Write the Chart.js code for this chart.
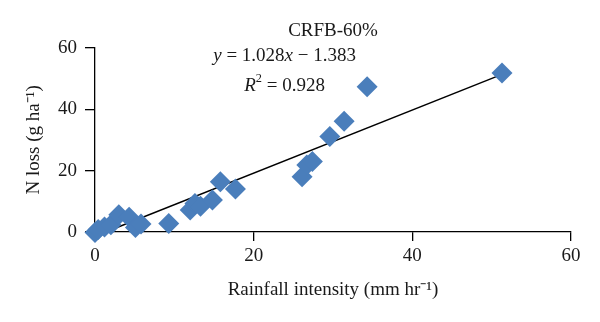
<!DOCTYPE html>
<html>
<head>
<meta charset="utf-8">
<script src="https://cdn.jsdelivr.net/npm/chart.js@4"></script>
<style>
  html, body { margin: 0; padding: 0; background: #fff; }
  #wrap { width: 600px; height: 322px; }
</style>
</head>
<body>
<div id="wrap"><canvas id="chart"></canvas></div>
<script>
// rainfall intensity (mm/hr) vs N loss (g/ha)
const rainfall = [0, 0.4, 1.2, 2.0, 3.0, 4.3, 5.1, 5.8, 9.3, 12.0, 12.6, 13.3, 14.8, 15.8, 17.7, 26.1, 26.7, 27.4, 29.6, 31.4, 34.3, 51.3]
const nLoss = [-0.2, 0.8, 1.6, 2.4, 5.6, 4.8, 1.5, 2.6, 2.8, 7.2, 9.3, 8.4, 10.4, 16.4, 14.0, 18.0, 21.8, 23.0, 31.1, 36.1, 47.3, 51.8]
const trendX = [0, 51.3]
const slope = 1.028
const intercept = -1.383
const tickValues = [0, 20, 40, 60]

const points = rainfall.map((x, i) => ({ x, y: nLoss[i] }))
const trend = trendX.map(x => ({ x, y: slope * x + intercept }))

const serif = '"Liberation Serif", "Times New Roman", serif'
const textColor = '#1a1a1a'
const fontSize = 19

// draws runs of text, some italic or superscript, centred on a point
function drawRuns(ctx, runs, cx, cy, size) {
  const fontFor = r => `${r.italic ? 'italic ' : ''}${r.sup ? size * 0.65 : size}px ${serif}`
  let total = 0
  runs.forEach(r => { ctx.font = fontFor(r); total += ctx.measureText(r.t).width })
  let x = cx - total / 2
  ctx.textBaseline = 'middle'
  ctx.textAlign = 'left'
  runs.forEach(r => {
    ctx.font = fontFor(r)
    ctx.fillText(r.t, x, r.sup ? cy - size * 0.38 : cy)
    x += ctx.measureText(r.t).width
  })
}

const equationLabel = {
  id: 'equationLabel',
  afterDatasetsDraw(chart) {
    const { ctx, scales } = chart
    ctx.save()
    ctx.fillStyle = textColor
    const cx = scales.x.getPixelForValue(23.9)
    drawRuns(ctx, [
      { t: 'y', italic: true }, { t: ' = 1.028' }, { t: 'x', italic: true }, { t: ' \u2212 1.383' }
    ], cx, scales.y.getPixelForValue(57.3), fontSize)
    drawRuns(ctx, [
      { t: 'R', italic: true }, { t: '2', sup: true }, { t: ' = 0.928' }
    ], cx, scales.y.getPixelForValue(47.6), fontSize)
    ctx.restore()
  }
}

new Chart(document.getElementById('chart'), {
  type: 'scatter',
  data: {
    datasets: [
      {
        label: 'CRFB-60%',
        data: points,
        pointStyle: 'rectRot',
        pointRadius: 10.5,
        pointHoverRadius: 10.5,
        backgroundColor: '#4a7ebb',
        borderColor: '#4a7ebb',
        borderWidth: 0,
        clip: false
      },
      {
        label: 'fit',
        type: 'line',
        data: trend,
        borderColor: '#000',
        borderWidth: 1.5,
        pointRadius: 0,
        fill: false,
        clip: false
      }
    ]
  },
  options: {
    responsive: true,
    maintainAspectRatio: false,
    animation: false,
    layout: { padding: { left: 0, right: 29, top: 0, bottom: 21 } },
    plugins: {
      legend: { display: false },
      tooltip: { enabled: false },
      title: {
        display: true,
        text: 'CRFB-60%',
        fullSize: false,
        color: textColor,
        font: { family: serif, size: fontSize, weight: 'normal', lineHeight: 1.2 },
        padding: { top: 20, bottom: 5 }
      }
    },
    scales: {
      x: {
        type: 'linear',
        min: 0,
        max: 60,
        afterBuildTicks: s => { s.ticks = tickValues.map(v => ({ value: v })) },
        afterFit: s => { s.height = 69 },
        grid: { display: true, drawOnChartArea: false, drawTicks: true, tickLength: 9, color: '#000', lineWidth: 1.3 },
        border: { display: true, color: '#000', width: 1.3 },
        ticks: { color: textColor, font: { family: serif, size: fontSize }, padding: 4, maxRotation: 0 },
        title: {
          display: true,
          text: 'Rainfall intensity (mm hr\u207B\u00B9)',
          color: textColor,
          font: { family: serif, size: fontSize },
          padding: { top: 0, bottom: 0 }
        }
      },
      y: {
        type: 'linear',
        min: 0,
        max: 60,
        afterBuildTicks: s => { s.ticks = tickValues.map(v => ({ value: v })) },
        afterFit: s => { s.width = 95 },
        grid: { display: true, drawOnChartArea: false, drawTicks: true, tickLength: 10, color: '#000', lineWidth: 1.3 },
        border: { display: true, color: '#000', width: 1.3 },
        ticks: { color: textColor, font: { family: serif, size: fontSize }, padding: 8 },
        title: {
          display: true,
          text: 'N loss (g ha\u207B\u00B9)',
          color: textColor,
          font: { family: serif, size: fontSize },
          padding: { top: 23, bottom: 0 }
        }
      }
    }
  },
  plugins: [equationLabel]
})
</script>
</body>
</html>
